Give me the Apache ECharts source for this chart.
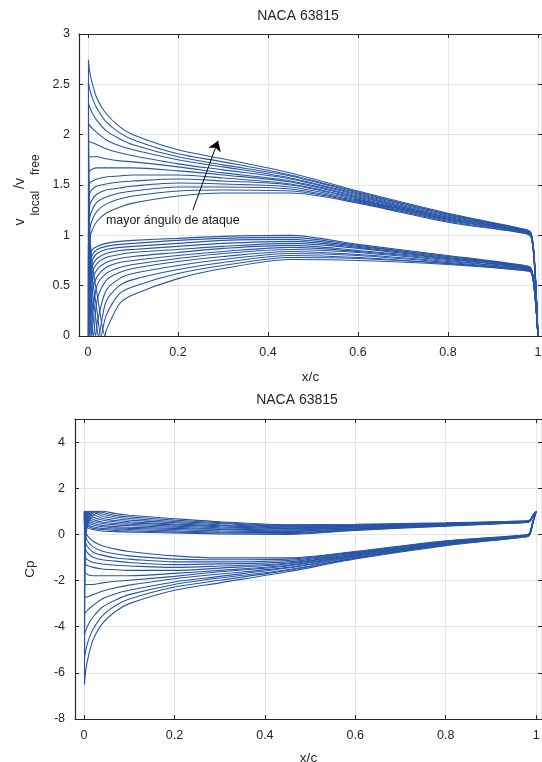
<!DOCTYPE html>
<html>
<head>
<meta charset="utf-8">
<script src="https://cdn.jsdelivr.net/npm/echarts@6/dist/echarts.min.js"></script>
<style>
  html, body { margin: 0; padding: 0; background: #fff; }
  #chart { width: 542px; height: 762px; }
</style>
</head>
<body>
<div id="chart"></div>
<script>
  // chord stations (x/c) for the upper and the lower surface
  const xUpper = [0.001, 0.004, 0.01, 0.02, 0.04, 0.07, 0.1, 0.2, 0.3, 0.45, 0.6, 0.8, 0.97, 0.985, 0.993, 1.0]
  const xLower = [0.002, 0.005, 0.01, 0.02, 0.04, 0.07, 0.1, 0.2, 0.3, 0.45, 0.6, 0.8, 0.97, 0.985, 0.993, 1.0]
  // stagnation point per angle (lowest angle first)
  const stagX = [0.0005, 0.0008, 0.001, 0.001, 0.0015, 0.003, 0.005, 0.008, 0.012, 0.017, 0.023, 0.029, 0.038]
  const stagV = 0
  const stagCp = 1

  // v_local / v_free, upper surface
  const vUpper = [
    [0.78, 0.97, 1.06, 1.14, 1.22, 1.28, 1.32, 1.39, 1.42, 1.42, 1.32, 1.13, 1.02, 0.98, 0.64, 0],
    [0.90, 1.07, 1.16, 1.24, 1.31, 1.36, 1.39, 1.44, 1.45, 1.44, 1.33, 1.14, 1.02, 0.98, 0.65, 0],
    [1.02, 1.18, 1.26, 1.33, 1.38, 1.42, 1.44, 1.48, 1.48, 1.46, 1.34, 1.15, 1.03, 0.99, 0.65, 0],
    [1.16, 1.30, 1.36, 1.41, 1.45, 1.47, 1.49, 1.52, 1.51, 1.48, 1.35, 1.16, 1.03, 0.99, 0.66, 0],
    [1.32, 1.42, 1.46, 1.49, 1.51, 1.53, 1.54, 1.56, 1.54, 1.50, 1.36, 1.16, 1.03, 0.99, 0.66, 0],
    [1.48, 1.52, 1.54, 1.56, 1.58, 1.59, 1.60, 1.60, 1.57, 1.51, 1.37, 1.17, 1.04, 1.00, 0.67, 0],
    [1.62, 1.64, 1.66, 1.67, 1.67, 1.67, 1.67, 1.64, 1.60, 1.53, 1.38, 1.18, 1.04, 1.00, 0.67, 0],
    [1.77, 1.78, 1.78, 1.78, 1.76, 1.74, 1.73, 1.68, 1.62, 1.54, 1.39, 1.18, 1.04, 1.00, 0.68, 0],
    [1.93, 1.93, 1.92, 1.90, 1.86, 1.82, 1.79, 1.71, 1.65, 1.56, 1.40, 1.19, 1.05, 1.01, 0.68, 0],
    [2.11, 2.09, 2.06, 2.02, 1.95, 1.89, 1.85, 1.75, 1.68, 1.57, 1.41, 1.20, 1.05, 1.01, 0.69, 0],
    [2.31, 2.27, 2.21, 2.14, 2.04, 1.96, 1.90, 1.78, 1.70, 1.59, 1.42, 1.21, 1.05, 1.01, 0.69, 0],
    [2.52, 2.45, 2.36, 2.26, 2.13, 2.02, 1.95, 1.81, 1.73, 1.60, 1.43, 1.21, 1.06, 1.02, 0.70, 0],
    [2.74, 2.62, 2.50, 2.36, 2.21, 2.08, 2.00, 1.85, 1.76, 1.62, 1.44, 1.22, 1.06, 1.02, 0.70, 0]
  ]
  // v_local / v_free, lower surface
  const vLower = [
    [0.65, 0.80, 0.86, 0.89, 0.92, 0.94, 0.95, 0.97, 0.99, 1.00, 0.91, 0.80, 0.70, 0.67, 0.45, 0],
    [0.55, 0.74, 0.81, 0.86, 0.89, 0.91, 0.92, 0.95, 0.97, 0.98, 0.90, 0.79, 0.70, 0.67, 0.45, 0],
    [0.45, 0.67, 0.76, 0.82, 0.86, 0.88, 0.89, 0.92, 0.95, 0.96, 0.89, 0.79, 0.69, 0.66, 0.44, 0],
    [0.35, 0.60, 0.70, 0.77, 0.82, 0.85, 0.86, 0.89, 0.92, 0.94, 0.88, 0.78, 0.69, 0.66, 0.44, 0],
    [0.20, 0.52, 0.64, 0.72, 0.78, 0.81, 0.83, 0.86, 0.89, 0.92, 0.87, 0.77, 0.68, 0.66, 0.44, 0],
    [0.35, 0.30, 0.56, 0.66, 0.73, 0.77, 0.79, 0.83, 0.87, 0.90, 0.85, 0.77, 0.68, 0.66, 0.43, 0],
    [0.55, 0.05, 0.45, 0.59, 0.68, 0.73, 0.75, 0.80, 0.84, 0.88, 0.84, 0.76, 0.68, 0.65, 0.43, 0],
    [0.80, 0.30, 0.20, 0.50, 0.62, 0.68, 0.71, 0.77, 0.82, 0.86, 0.83, 0.75, 0.67, 0.65, 0.43, 0],
    [0.95, 0.55, 0.05, 0.35, 0.55, 0.63, 0.67, 0.74, 0.79, 0.84, 0.81, 0.74, 0.67, 0.65, 0.42, 0],
    [1.05, 0.70, 0.30, 0.12, 0.45, 0.57, 0.62, 0.70, 0.76, 0.82, 0.80, 0.73, 0.66, 0.64, 0.42, 0],
    [1.15, 0.80, 0.45, 0.08, 0.34, 0.50, 0.56, 0.66, 0.73, 0.80, 0.78, 0.72, 0.66, 0.64, 0.42, 0],
    [1.25, 0.88, 0.58, 0.25, 0.20, 0.42, 0.49, 0.62, 0.70, 0.78, 0.77, 0.72, 0.65, 0.63, 0.41, 0],
    [1.35, 0.95, 0.70, 0.42, 0.05, 0.32, 0.41, 0.57, 0.67, 0.76, 0.75, 0.71, 0.65, 0.63, 0.41, 0]
  ]
  // Cp, upper surface
  const cpUpper = [
    [0.39, 0.06, -0.12, -0.30, -0.49, -0.64, -0.74, -0.93, -1.02, -1.02, -0.74, -0.28, -0.04, 0.04, 0.59, 1],
    [0.19, -0.14, -0.35, -0.54, -0.72, -0.85, -0.93, -1.07, -1.10, -1.07, -0.77, -0.30, -0.04, 0.04, 0.58, 1],
    [-0.04, -0.39, -0.59, -0.77, -0.90, -1.02, -1.07, -1.19, -1.19, -1.13, -0.80, -0.32, -0.06, 0.02, 0.58, 1],
    [-0.35, -0.69, -0.85, -0.99, -1.10, -1.16, -1.22, -1.31, -1.28, -1.19, -0.82, -0.35, -0.06, 0.02, 0.56, 1],
    [-0.74, -1.02, -1.13, -1.22, -1.28, -1.34, -1.37, -1.43, -1.37, -1.25, -0.85, -0.35, -0.06, 0.02, 0.56, 1],
    [-1.19, -1.31, -1.37, -1.43, -1.50, -1.53, -1.56, -1.56, -1.46, -1.28, -0.88, -0.37, -0.08, 0, 0.55, 1],
    [-1.62, -1.69, -1.76, -1.79, -1.79, -1.79, -1.79, -1.69, -1.56, -1.34, -0.90, -0.39, -0.08, 0, 0.55, 1],
    [-2.13, -2.17, -2.17, -2.17, -2.10, -2.03, -1.99, -1.82, -1.62, -1.37, -0.93, -0.39, -0.08, 0, 0.54, 1],
    [-2.72, -2.72, -2.69, -2.61, -2.46, -2.31, -2.20, -1.92, -1.72, -1.43, -0.96, -0.42, -0.10, -0.02, 0.54, 1],
    [-3.45, -3.37, -3.24, -3.08, -2.80, -2.57, -2.42, -2.06, -1.82, -1.46, -0.99, -0.44, -0.10, -0.02, 0.52, 1],
    [-4.34, -4.15, -3.88, -3.58, -3.16, -2.84, -2.61, -2.17, -1.89, -1.53, -1.02, -0.46, -0.10, -0.02, 0.52, 1],
    [-5.35, -5.00, -4.57, -4.11, -3.54, -3.08, -2.80, -2.28, -1.99, -1.56, -1.04, -0.46, -0.12, -0.04, 0.51, 1],
    [-6.51, -5.86, -5.25, -4.57, -3.88, -3.33, -3.00, -2.42, -2.10, -1.62, -1.07, -0.49, -0.12, -0.04, 0.51, 1]
  ]
  // Cp, lower surface
  const cpLower = [
    [0.58, 0.36, 0.26, 0.21, 0.15, 0.12, 0.10, 0.06, 0.02, 0, 0.17, 0.36, 0.51, 0.55, 0.80, 1],
    [0.70, 0.45, 0.34, 0.26, 0.21, 0.17, 0.15, 0.10, 0.06, 0.04, 0.19, 0.38, 0.51, 0.55, 0.80, 1],
    [0.80, 0.55, 0.42, 0.33, 0.26, 0.23, 0.21, 0.15, 0.10, 0.08, 0.21, 0.38, 0.52, 0.56, 0.81, 1],
    [0.88, 0.64, 0.51, 0.41, 0.33, 0.28, 0.26, 0.21, 0.15, 0.12, 0.23, 0.39, 0.52, 0.56, 0.81, 1],
    [0.96, 0.73, 0.59, 0.48, 0.39, 0.34, 0.31, 0.26, 0.21, 0.15, 0.24, 0.41, 0.54, 0.56, 0.81, 1],
    [0.88, 0.91, 0.69, 0.56, 0.47, 0.41, 0.38, 0.31, 0.24, 0.19, 0.28, 0.41, 0.54, 0.56, 0.82, 1],
    [0.70, 1.00, 0.80, 0.65, 0.54, 0.47, 0.44, 0.36, 0.29, 0.23, 0.29, 0.42, 0.54, 0.58, 0.82, 1],
    [0.36, 0.91, 0.96, 0.75, 0.62, 0.54, 0.50, 0.41, 0.33, 0.26, 0.31, 0.44, 0.55, 0.58, 0.82, 1],
    [0.10, 0.70, 1.00, 0.88, 0.70, 0.60, 0.55, 0.45, 0.38, 0.29, 0.34, 0.45, 0.55, 0.58, 0.82, 1],
    [-0.10, 0.51, 0.91, 0.99, 0.80, 0.68, 0.62, 0.51, 0.42, 0.33, 0.36, 0.47, 0.56, 0.59, 0.82, 1],
    [-0.32, 0.36, 0.80, 0.99, 0.88, 0.75, 0.69, 0.56, 0.47, 0.36, 0.39, 0.48, 0.56, 0.59, 0.82, 1],
    [-0.56, 0.23, 0.66, 0.94, 0.96, 0.82, 0.76, 0.62, 0.51, 0.39, 0.41, 0.48, 0.58, 0.60, 0.83, 1],
    [-0.82, 0.10, 0.51, 0.82, 1.00, 0.90, 0.83, 0.68, 0.55, 0.42, 0.44, 0.50, 0.58, 0.60, 0.83, 1]
  ]

  const xTicks = [0, 0.2, 0.4, 0.6, 0.8, 1]
  const cpTicks = [-8, -6, -4, -2, 0, 2, 4]
  const arrowFrom = [0.233, 1.25]
  const arrowTo = [0.289, 1.94]

  const lineColor = '#2855a6'
  const axisColor = '#262626'
  const gridColor = '#e6e6e6'
  const font = 'Liberation Sans, Arial, Helvetica, sans-serif'

  // trailing edge -> lower surface -> stagnation -> leading edge -> upper surface -> trailing edge
  function buildCurve(k, up, low, stag) {
    let lower = xLower.map((x, i) => [x, low[k][i]])
    lower.push([stagX[k], stag])
    lower.sort((a, b) => b[0] - a[0])
    let upper = xUpper.map((x, i) => [x, up[k][i]])
    return lower.concat(upper)
  }

  let series = []
  for (let k = 0; k < vUpper.length; k++) {
    series.push({
      type: 'line', xAxisIndex: 0, yAxisIndex: 0,
      showSymbol: false, symbol: 'none', animation: false, silent: true, smooth: 0.3,
      lineStyle: { color: lineColor, width: 1.1 },
      data: buildCurve(k, vUpper, vLower, stagV)
    })
    series.push({
      type: 'line', xAxisIndex: 2, yAxisIndex: 2,
      showSymbol: false, symbol: 'none', animation: false, silent: true, smooth: 0.3,
      lineStyle: { color: lineColor, width: 1.1 },
      data: buildCurve(k, cpUpper, cpLower, stagCp)
    })
  }
  series[0].markLine = {
    silent: true, animation: false,
    symbol: ['none', 'arrow'], symbolSize: 10,
    lineStyle: { color: '#000', width: 1, type: 'solid' },
    label: { show: false },
    data: [[{ coord: arrowFrom }, { coord: arrowTo }]]
  }

  function bottomX(grid, max, name, gap) {
    return {
      type: 'value', gridIndex: grid, position: 'bottom', min: -0.02, max: max,
      name: name, nameLocation: 'middle', nameGap: gap,
      nameTextStyle: { fontFamily: font, fontSize: 13.5, color: axisColor },
      axisLine: { show: true, onZero: false, lineStyle: { color: axisColor, width: 1.2 } },
      axisTick: { show: true, inside: true, length: 4, customValues: xTicks, lineStyle: { color: axisColor } },
      axisLabel: { customValues: xTicks, fontFamily: font, fontSize: 12.5, color: axisColor, margin: 10 },
      splitLine: { show: true, lineStyle: { color: gridColor, width: 1 } }
    }
  }
  function topX(grid, max) {
    return {
      type: 'value', gridIndex: grid, position: 'top', min: -0.02, max: max,
      axisLine: { show: true, onZero: false, lineStyle: { color: axisColor, width: 1.2 } },
      axisTick: { show: true, inside: true, length: 4, customValues: xTicks, lineStyle: { color: axisColor } },
      axisLabel: { show: false },
      splitLine: { show: false }
    }
  }
  function sideY(grid, min, max, pos, extra) {
    let ax = {
      type: 'value', gridIndex: grid, position: pos, min: min, max: max,
      axisLine: { show: true, onZero: false, lineStyle: { color: axisColor, width: 1.2 } },
      axisTick: { show: true, inside: true, length: 4, lineStyle: { color: axisColor } },
      axisLabel: { show: false },
      splitLine: { show: false }
    }
    return Object.assign(ax, extra)
  }

  let option = {
    animation: false,
    backgroundColor: '#fff',
    grid: [
      { left: 79, right: 0, top: 34, bottom: 426, outerBoundsMode: 'none' },
      { left: 75, right: 0, top: 419, bottom: 43, outerBoundsMode: 'none' }
    ],
    xAxis: [
      bottomX(0, 1.009, 'x/c', 34),
      topX(0, 1.009),
      bottomX(1, 1.013, 'x/c', 32),
      topX(1, 1.013)
    ],
    yAxis: [
      sideY(0, 0, 3, 'left', {
        interval: 0.5,
        axisLabel: { fontFamily: font, fontSize: 12.5, color: axisColor, margin: 9 },
        splitLine: { show: true, lineStyle: { color: gridColor, width: 1 } }
      }),
      sideY(0, 0, 3, 'right', { interval: 0.5 }),
      sideY(1, -8, 5, 'left', {
        name: 'Cp', nameLocation: 'middle', nameGap: 38, nameRotate: 90,
        nameTextStyle: { fontFamily: font, fontSize: 13.5, color: axisColor },
        axisTick: { show: true, inside: true, length: 4, customValues: cpTicks, lineStyle: { color: axisColor } },
        axisLabel: { customValues: cpTicks, fontFamily: font, fontSize: 12.5, color: axisColor, margin: 10 },
        splitLine: { show: true, lineStyle: { color: gridColor, width: 1 } }
      }),
      sideY(1, -8, 5, 'right', {
        axisTick: { show: true, inside: true, length: 4, customValues: cpTicks, lineStyle: { color: axisColor } }
      })
    ],
    graphic: [
      { type: 'text', x: 298, y: 16, silent: true,
        style: { text: 'NACA 63815', fontFamily: font, fontSize: 14, fill: axisColor, align: 'center', verticalAlign: 'middle' } },
      { type: 'text', x: 297, y: 400, silent: true,
        style: { text: 'NACA 63815', fontFamily: font, fontSize: 14, fill: axisColor, align: 'center', verticalAlign: 'middle' } },
      { type: 'text', x: 106, y: 221, silent: true,
        style: { text: 'mayor ángulo de ataque', fontFamily: font, fontSize: 12.4, fill: '#1a1a1a', align: 'left', verticalAlign: 'middle' } },
      { type: 'text', x: 28, y: 189, rotation: Math.PI / 2, silent: true,
        style: {
          text: '{m|v}{s|local}{m|/v}{s|free}',
          fontFamily: font, fill: axisColor, align: 'center', verticalAlign: 'middle',
          rich: {
            m: { fontFamily: font, fontSize: 14, fill: axisColor, padding: [0, 0, 15, 0] },
            s: { fontFamily: font, fontSize: 12, fill: axisColor, padding: [15, 2, 0, 3] }
          }
        } }
    ],
    series: series
  }

  let chart = echarts.init(document.getElementById('chart'))
  chart.setOption(option)
</script>
</body>
</html>
